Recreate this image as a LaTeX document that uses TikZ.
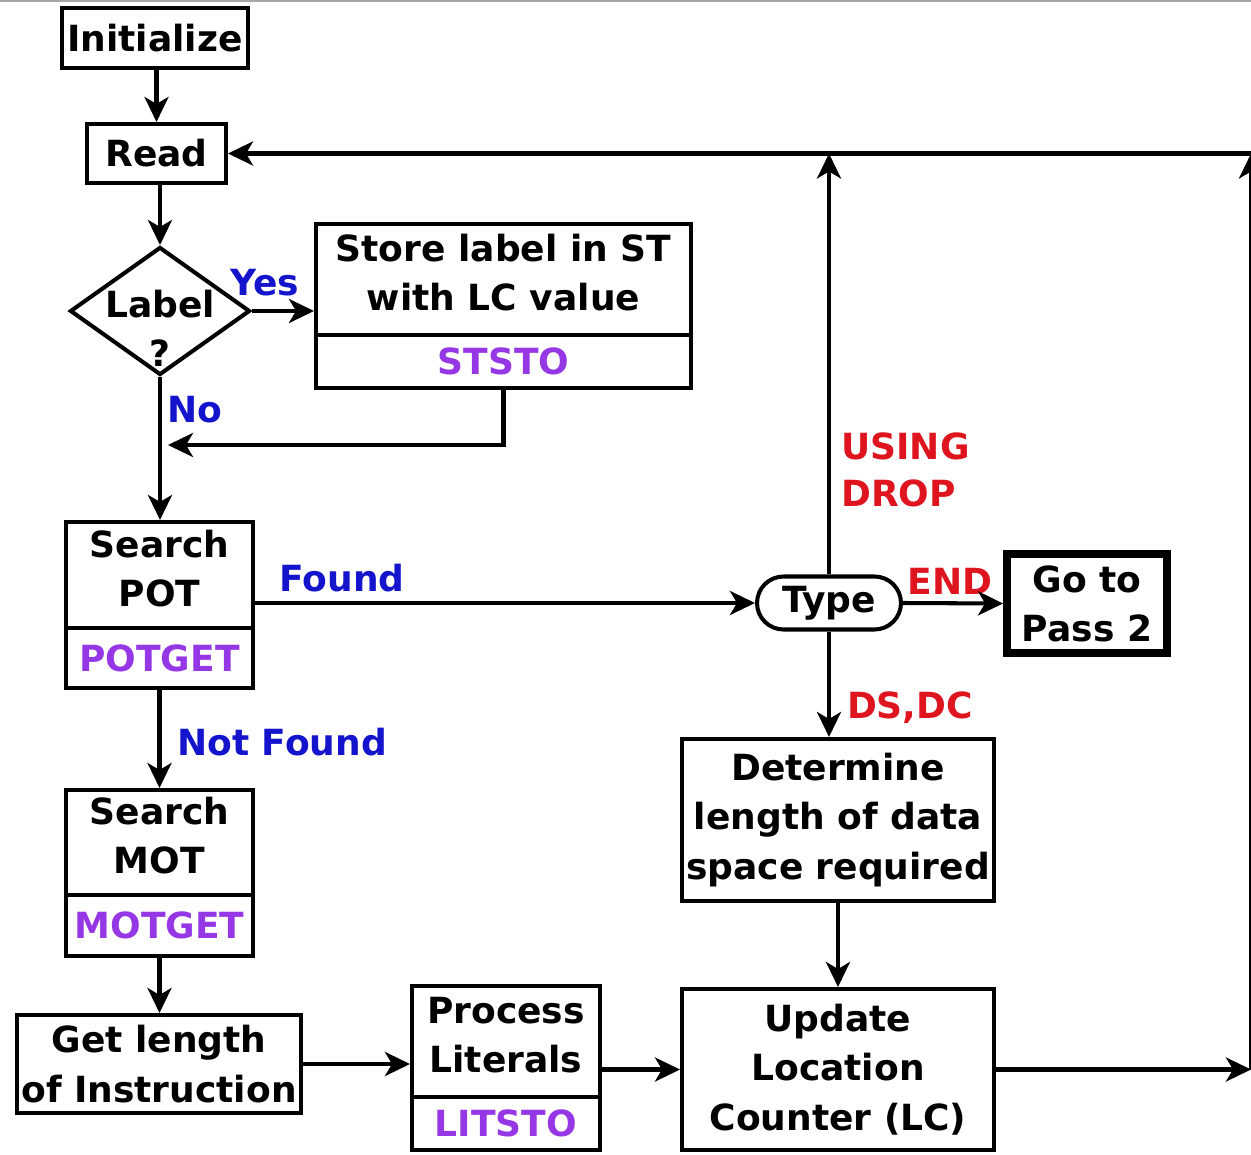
\documentclass[tikz,border=0pt]{standalone}
\usepackage{fontspec}
\setmainfont{DejaVu Sans}
\usetikzlibrary{arrows.meta,shapes.geometric,shapes.misc}
\definecolor{cblue}{RGB}{20,20,205}
\definecolor{cpurp}{RGB}{150,55,230}
\definecolor{cred}{RGB}{222,20,30}
\tikzset{
  txt/.style={font=\bfseries\fontsize{20.5}{28}\selectfont, align=center, inner sep=0pt},
  box/.style={txt, draw, line width=2.3pt, rectangle},
  tag/.style={box, text=cpurp},
  raised/.style={text depth=0.28cm},
  yeslbl/.style={txt, text=cblue},
  redlbl/.style={txt, text=cred},
  conn/.style={line width=2.3pt, -{Stealth[length=0.5cm, width=0.48cm, inset=0.14cm]}},
}
\begin{document}
\begin{tikzpicture}[x=0.02cm, y=-0.02cm]
\useasboundingbox (0,0) rectangle (1251,1155);
\draw[gray!70, line width=0.6pt] (0,1) -- (1251,1);

% nodes
\node[box, minimum width=3.72cm, minimum height=1.2cm] (init) at (155,38) {Initialize};
\node[box, minimum width=2.78cm, minimum height=1.18cm] (read) at (156.5,153.5) {Read};
\node[draw, diamond, line width=2.3pt, minimum width=3.6cm, minimum height=2.56cm, inner sep=0pt] (lab) at (160,311) {};
\node[txt] (labt) at (160,328) {Label\\?};

\node[box, raised, minimum width=7.5cm, minimum height=2.22cm] (sttop) at (503.5,279.5) {Store label in ST\\with LC value};
\node[tag, minimum width=7.5cm, minimum height=1.06cm] (stbot) at (503.5,361.5) {STSTO};

\node[box, raised, minimum width=3.74cm, minimum height=2.12cm] (pottop) at (159.5,575) {Search\\POT};
\node[tag, minimum width=3.74cm, minimum height=1.2cm] (potbot) at (159.5,658) {POTGET};

\node[box, raised, minimum width=3.74cm, minimum height=2.1cm] (mottop) at (159.5,842.5) {Search\\MOT};
\node[tag, minimum width=3.74cm, minimum height=1.22cm] (motbot) at (159.5,925.5) {MOTGET};

\node[box, minimum width=5.68cm, minimum height=1.96cm] (getlen) at (159,1064) {Get length\\of Instruction};

\node[box, raised, minimum width=3.76cm, minimum height=2.22cm] (proctop) at (506,1041.5) {Process\\Literals};
\node[tag, minimum width=3.76cm, minimum height=1.06cm] (procbot) at (506,1123.5) {LITSTO};

\node[txt, draw, rounded rectangle, line width=2.3pt, minimum width=2.88cm, minimum height=1.06cm] (type) at (829,603) {Type};
\node[box, line width=4.5pt, minimum width=3.2cm, minimum height=1.98cm] (go2) at (1087,603.5) {Go to\\Pass 2};

\node[box, minimum width=6.24cm, minimum height=3.24cm] (det) at (838,820) {Determine\\length of data\\space required};
\node[box, minimum width=6.24cm, minimum height=3.22cm] (upd) at (838,1069.5) {Update\\Location\\Counter (LC)};

% labels
\node[yeslbl] (yes) at (265,283) {Yes};
\node[yeslbl] (no) at (195,410) {No};
\node[yeslbl] (found) at (342,578) {Found};
\node[yeslbl] (notfound) at (282,742) {Not Found};
\node[redlbl, anchor=west, align=left, font=\bfseries\fontsize{20.5}{27}\selectfont] (using) at (841,470) {USING\\DROP};
\node[redlbl] (endl) at (950,581) {END};
\node[redlbl] (dsdc) at (910,708) {DS,DC};

% coordinates
\coordinate (ret) at (168,445);
\coordinate (rb) at (1251,1069.5);
\coordinate (rt) at (1251,153.5);

% connectors
\draw[conn] (init.south -| read.north) -- (read.north);
\draw[conn] (lab.north |- read.south) -- (lab.north);
\draw[conn] (lab.east) -- (lab.east -| sttop.west);
\draw[conn] (stbot.south) |- (ret);
\draw[conn] (lab.south) -- (lab.south |- pottop.north);
\draw[conn] (pottop.east |- type.west) -- (type.west);
\draw[conn] (type.north) -- (type.north |- read.east);
\draw[conn] (type.east) -- (go2.west);
\draw[conn] (type.south) -- (type.south |- det.north);
\draw[conn] (det.south) -- (upd.north);
\draw[conn] (potbot.south) -- (mottop.north);
\draw[conn] (motbot.south) -- (getlen.north -| motbot.south);
\draw[conn] (getlen.east) -- (getlen.east -| proctop.west);
\draw[conn] (upd.west -| proctop.east) -- (upd.west);
\draw[conn] (upd.east) -- (rb);
\draw[conn] (rb) -- (rt);
\draw[conn] (rt) -- (read.east);
\end{tikzpicture}
\end{document}
